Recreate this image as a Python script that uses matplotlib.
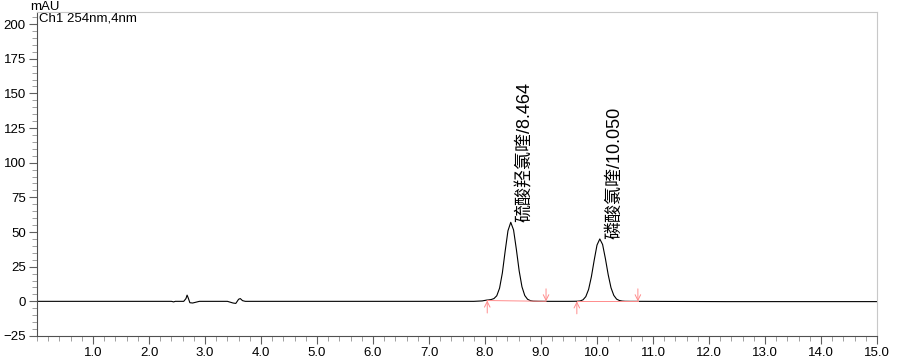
import matplotlib.pyplot as plt
from matplotlib.ticker import MultipleLocator

plt.rcParams['font.family'] = ['Liberation Sans', 'Noto Sans CJK SC', 'DejaVu Sans']

# trace (min, mAU)
t = [0.0, 2.40, 2.44, 2.47, 2.62, 2.66, 2.68, 2.70, 2.73, 2.78, 2.85, 2.90,
     3.40, 3.50, 3.55, 3.60, 3.63, 3.67, 3.72, 7.80, 7.95, 8.03, 8.06, 8.11,
     8.16, 8.21, 8.26, 8.31, 8.36, 8.41, 8.46, 8.51, 8.56, 8.61, 8.66, 8.71,
     8.76, 8.81, 8.86, 8.95, 9.10, 9.50, 9.60, 9.65, 9.70, 9.75, 9.80, 9.85,
     9.90, 9.95, 10.00, 10.05, 10.10, 10.15, 10.20, 10.25, 10.30, 10.35,
     10.40, 10.45, 10.50, 10.60, 10.80, 12.3, 12.8, 13.1, 15.0]
mau = [0.0, 0.0, -0.4, 0.0, 0.0, 2.0, 4.5, 2.5, -1.0, -1.2, -0.5, 0.0,
       0.0, -1.2, -1.5, 1.5, 2.0, 0.5, 0.0, 0.0, 0.3, 0.9, 1.0, 1.3,
       2.0, 4.0, 9.5, 20.5, 36.2, 50.9, 57.0, 51.5, 37.5, 22.0, 10.5, 4.2,
       1.5, 0.5, 0.15, 0.05, 0.0, 0.0, 0.05, 0.1, 0.3, 1.1, 3.4, 8.6,
       17.8, 29.7, 40.6, 45.0, 41.0, 30.8, 19.2, 9.8, 4.3, 1.6,
       0.6, 0.2, 0.05, 0.0, 0.0, -0.2, -0.2, -0.2, -0.2]

# integration baselines (start, end) per peak
base_start = [8.04, 9.64]
base_end = [9.09, 10.73]
base_y0 = [0.6, 0.0]
base_y1 = [0.0, 0.0]

peak_rt = [8.464, 10.050]
peak_h = [57.0, 45.0]
peak_names = ['硫酸羟氯喹/8.464', '磷酸氯喹/10.050']

fig = plt.figure(figsize=(8.97, 3.63), dpi=100)
ax = fig.add_axes([37/897, 1-336/363, 840/897, 324/363])

ax.plot(t, mau, color='black', lw=0.8)

red = '#ff8c8c'
for i in range(len(base_start)):
    ax.plot([base_start[i], base_end[i]], [base_y0[i], base_y1[i]], color=red, lw=0.7)
    ax.annotate('', xy=(base_start[i], base_y0[i]), xytext=(0, -9), textcoords='offset points',
                arrowprops=dict(arrowstyle='->', color=red, lw=0.7, shrinkA=0, shrinkB=0))
    ax.annotate('', xy=(base_end[i], base_y1[i]), xytext=(0, 9), textcoords='offset points',
                arrowprops=dict(arrowstyle='->', color=red, lw=0.7, shrinkA=0, shrinkB=0))

for i in range(len(peak_rt)):
    ax.annotate(peak_names[i], xy=(peak_rt[i], peak_h[i]), xytext=(10.5, 0),
                textcoords='offset points', rotation=90, ha='center', va='bottom',
                fontsize=13)

ax.set_xlim(0, 15)
ax.set_ylim(-25, 208.7)
ax.xaxis.set_major_locator(MultipleLocator(1.0))
ax.xaxis.set_minor_locator(MultipleLocator(0.2))
ax.yaxis.set_major_locator(MultipleLocator(25))
ax.yaxis.set_minor_locator(MultipleLocator(5))
ax.set_yticks([-25, 0, 25, 50, 75, 100, 125, 150, 175, 200])
xt = [1, 2, 3, 4, 5, 6, 7, 8, 9, 10, 11, 12, 13, 14, 15]
ax.set_xticks(xt)
ax.set_xticklabels(['%.1f' % v for v in xt])

ax.tick_params(which='major', length=6, color='#606060', labelsize=9.5, pad=2)
ax.tick_params(which='minor', length=3.5, color='#909090')
for s in ['left', 'bottom']:
    ax.spines[s].set_color('#505050')
    ax.spines[s].set_linewidth(0.8)
for s in ['top', 'right']:
    ax.spines[s].set_color('#c8c8c8')
    ax.spines[s].set_linewidth(0.8)

fig.text(30/897, 1-1/363, 'mAU', fontsize=9.5, ha='left', va='top')
ax.text(0.002, 0.998, 'Ch1 254nm,4nm', transform=ax.transAxes, fontsize=9.5, ha='left', va='top')

fig.savefig('out.png', dpi=100)
